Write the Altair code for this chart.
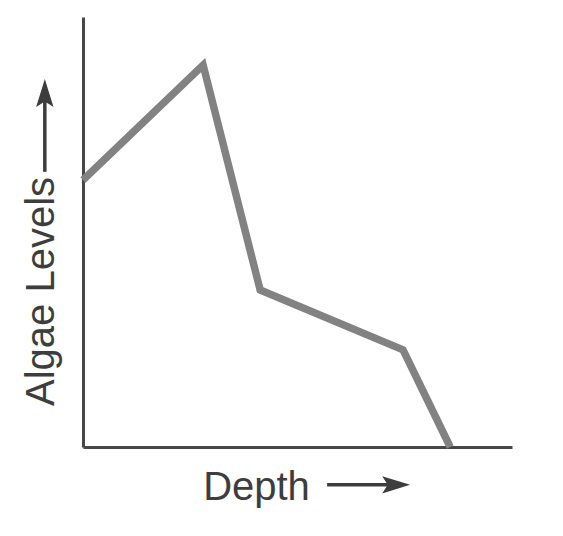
import altair as alt
import pandas as pd

# main curve
depth = [0, 28, 41.3, 74.6, 85.6]
algae = [62.1, 88.8, 36.5, 22.6, 0]

# axis-title arrows (shaft start/end, head position, head angle)
arrow_x0 = [56.9, -8.9]
arrow_x1 = [72.0, -8.9]
arrow_y0 = [-8.8, 64.0]
arrow_y1 = [-8.8, 81.0]
head_x = [73.0, -8.9]
head_y = [-8.8, 82.3]
head_angle = [0, 270]

df = pd.DataFrame({"Depth": depth, "Algae": algae})
shafts = pd.DataFrame({"Depth": arrow_x0, "Depth2": arrow_x1,
                       "Algae": arrow_y0, "Algae2": arrow_y1})
heads = pd.DataFrame({"Depth": head_x, "Algae": head_y, "angle": head_angle})

scale = alt.Scale(domain=[0, 100], nice=False, zero=False)
common = dict(labels=False, ticks=False, grid=False,
              domainColor="#474747", domainWidth=3,
              titleFont="Liberation Sans", titleFontSize=40,
              titleFontWeight="normal", titleColor="#3d3d3d")
xaxis = alt.Axis(title="Depth", titlePadding=20, titleX=173, **common)
yaxis = alt.Axis(title="Algae Levels", titlePadding=22, titleY=274, **common)

line = alt.Chart(df).mark_line(
    color="#828282", strokeWidth=7.5, strokeJoin="miter", strokeCap="butt"
).encode(
    x=alt.X("Depth:Q", scale=scale, axis=xaxis),
    y=alt.Y("Algae:Q", scale=scale, axis=yaxis),
    order=alt.Order("Depth:Q"),
)

shaft = alt.Chart(shafts).mark_rule(color="#3d3d3d", strokeWidth=3.5).encode(
    x=alt.X("Depth:Q", scale=scale, axis=xaxis),
    x2="Depth2:Q",
    y=alt.Y("Algae:Q", scale=scale, axis=yaxis),
    y2="Algae2:Q",
)

head = alt.Chart(heads).mark_point(
    shape="M1,0 L-1,-0.62 L-0.6,0 L-1,0.62 Z",
    filled=True, color="#3d3d3d", opacity=1, size=784,
).encode(
    x=alt.X("Depth:Q", scale=scale, axis=xaxis),
    y=alt.Y("Algae:Q", scale=scale, axis=yaxis),
    angle=alt.Angle("angle:Q", scale=None),
)

chart = alt.layer(line, shaft, head).properties(
    width=429, height=430,
    background="white",
    autosize=alt.AutoSizeParams(type="none"),
    padding={"left": 75, "top": 9, "right": 43, "bottom": 81},
).configure_view(stroke="transparent", strokeWidth=0)

chart.save("out.html", embed_options={"renderer": "svg", "actions": False})
